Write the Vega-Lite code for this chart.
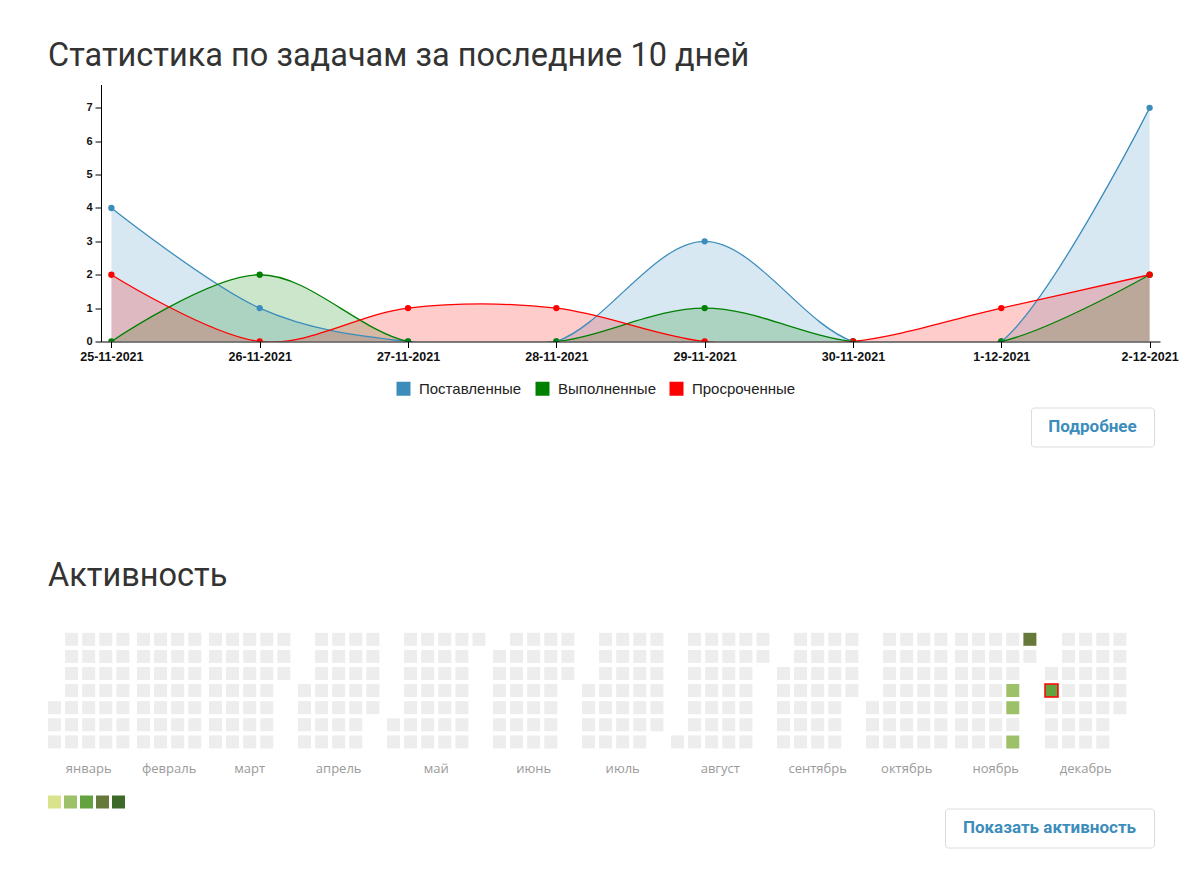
{
  "$schema": "https://vega.github.io/schema/vega-lite/v6.json",
  "autosize": {"type": "pad"},
  "padding": {"left": 48, "top": 39.5, "right": 0, "bottom": 0},
  "background": "white",
  "config": {"view": {"stroke": null}, "font": "Roboto"},
  "resolve": {"scale": {"color": "independent", "fill": "independent"}, "legend": {"color": "independent", "fill": "independent"}},
  "spacing": 112.3,
  "vconcat": [
    {
      "spacing": 4,
      "resolve": {"scale": {"color": "independent", "fill": "independent"}, "legend": {"color": "independent", "fill": "independent"}},
      "vconcat": [
        {
          "spacing": -1,
          "resolve": {"scale": {"color": "independent", "fill": "independent"}, "legend": {"color": "independent", "fill": "independent"}},
          "hconcat": [
            {"width": 1, "height": 1, "data": {"values": [{}]}, "mark": {"type": "text", "text": ""}, "encoding": {}},
            {
              "width": 1059, "height": 257,
              "title": {"text": "Статистика по задачам за последние 10 дней", "anchor": "start", "frame": "group", "dx": -53, "offset": -14, "baseline": "alphabetic", "font": "Roboto", "fontSize": 32.5, "fontWeight": "normal", "color": "#333333"},
              "data": {"values": [
                {"date": "25-11-2021", "series": "Поставленные", "value": 4},
                {"date": "26-11-2021", "series": "Поставленные", "value": 1},
                {"date": "27-11-2021", "series": "Поставленные", "value": 0},
                {"date": "28-11-2021", "series": "Поставленные", "value": 0},
                {"date": "29-11-2021", "series": "Поставленные", "value": 3},
                {"date": "30-11-2021", "series": "Поставленные", "value": 0},
                {"date": "1-12-2021", "series": "Поставленные", "value": 0},
                {"date": "2-12-2021", "series": "Поставленные", "value": 7},
                {"date": "25-11-2021", "series": "Выполненные", "value": 0},
                {"date": "26-11-2021", "series": "Выполненные", "value": 2},
                {"date": "27-11-2021", "series": "Выполненные", "value": 0},
                {"date": "28-11-2021", "series": "Выполненные", "value": 0},
                {"date": "29-11-2021", "series": "Выполненные", "value": 1},
                {"date": "30-11-2021", "series": "Выполненные", "value": 0},
                {"date": "1-12-2021", "series": "Выполненные", "value": 0},
                {"date": "2-12-2021", "series": "Выполненные", "value": 2},
                {"date": "25-11-2021", "series": "Просроченные", "value": 2},
                {"date": "26-11-2021", "series": "Просроченные", "value": 0},
                {"date": "27-11-2021", "series": "Просроченные", "value": 1},
                {"date": "28-11-2021", "series": "Просроченные", "value": 1},
                {"date": "29-11-2021", "series": "Просроченные", "value": 0},
                {"date": "30-11-2021", "series": "Просроченные", "value": 0},
                {"date": "1-12-2021", "series": "Просроченные", "value": 1},
                {"date": "2-12-2021", "series": "Просроченные", "value": 2}
              ]},
              "encoding": {
                "x": {"field": "date", "type": "ordinal",
                  "sort": ["25-11-2021", "26-11-2021", "27-11-2021", "28-11-2021", "29-11-2021", "30-11-2021", "1-12-2021", "2-12-2021"],
                  "scale": {"type": "point", "padding": 0.07},
                  "axis": {"title": null, "labelAngle": 0, "labelFont": "Liberation Sans", "labelFontSize": 12.5, "labelFontWeight": "bold", "labelColor": "#111111", "tickColor": "#000000", "domainColor": "#000000", "tickSize": 6, "labelPadding": 2.5, "grid": false, "zindex": 1}},
                "y": {"field": "value", "type": "quantitative", "stack": null,
                  "scale": {"domain": [0, 7.7], "nice": false},
                  "axis": {"title": null, "values": [0, 1, 2, 3, 4, 5, 6, 7], "labelFont": "Liberation Sans", "labelFontSize": 11, "labelFontWeight": "bold", "labelColor": "#111111", "tickColor": "#000000", "domainColor": "#000000", "tickSize": 6, "labelPadding": 3, "grid": false, "zindex": 1}}
              },
              "layer": [
                {
                  "mark": {"type": "area", "interpolate": "cardinal", "fillOpacity": 0.2, "clip": true},
                  "encoding": {"fill": {"field": "series", "type": "nominal", "scale": {"domain": ["Выполненные", "Поставленные", "Просроченные"], "range": ["#008000", "#3c8dbc", "#ff0000"]}, "legend": null}}
                },
                {
                  "mark": {"type": "point", "filled": true, "size": 40, "opacity": 1, "clip": true},
                  "encoding": {"color": {"field": "series", "type": "nominal", "scale": {"domain": ["Поставленные", "Выполненные", "Просроченные"], "range": ["#3c8dbc", "#008000", "#ff0000"]},
                    "legend": {"title": null, "orient": "none", "legendX": 295, "legendY": 296.5, "direction": "horizontal", "symbolType": "square", "symbolSize": 196, "symbolStrokeWidth": 0, "symbolOpacity": 1, "labelFont": "Liberation Sans", "labelFontSize": 15, "labelColor": "#222222", "labelOffset": 8, "columnPadding": 13, "padding": 0}}}
                },
                {
                  "mark": {"type": "line", "interpolate": "cardinal", "strokeWidth": 1.3, "clip": true},
                  "encoding": {"color": {"field": "series", "type": "nominal", "scale": {"domain": ["Поставленные", "Выполненные", "Просроченные"], "range": ["#3c8dbc", "#008000", "#ff0000"]},
                    "legend": {"title": null, "orient": "none", "legendX": 295, "legendY": 296.5, "direction": "horizontal", "symbolType": "square", "symbolSize": 196, "symbolStrokeWidth": 0, "symbolOpacity": 1, "labelFont": "Liberation Sans", "labelFontSize": 15, "labelColor": "#222222", "labelOffset": 8, "columnPadding": 13, "padding": 0}}}
                }
              ]
            }
          ]
        },
        {
          "spacing": 0,
          "hconcat": [
            {"width": 982, "height": 1, "data": {"values": [{}]}, "mark": {"type": "text", "text": ""}, "encoding": {}},
            {
              "width": 123, "height": 39,
              "data": {"values": [{"label": "Подробнее"}]},
              "mark": {"type": "text", "font": "Roboto", "fontSize": 17, "fontWeight": "bold", "color": "#3c8dbc", "align": "center", "baseline": "middle"},
              "encoding": {"text": {"field": "label"}},
              "view": {"stroke": "#dcdcdc", "strokeWidth": 1, "cornerRadius": 3}
            }
          ]
        }
      ]
    },
    {
      "spacing": 26.7,
      "vconcat": [
        {
          "title": {"text": "Активность", "anchor": "start", "frame": "group", "dx": 0, "offset": 14.3, "baseline": "alphabetic", "font": "Roboto", "fontSize": 32.5, "fontWeight": "normal", "color": "#333333"},
          "data": {"values": [
{"m":"январь","w":1,"d":5,"v":0},{"m":"январь","w":1,"d":6,"v":0},{"m":"январь","w":1,"d":7,"v":0},
{"m":"январь","w":2,"d":1,"v":0},{"m":"январь","w":2,"d":2,"v":0},{"m":"январь","w":2,"d":3,"v":0},{"m":"январь","w":2,"d":4,"v":0},{"m":"январь","w":2,"d":5,"v":0},{"m":"январь","w":2,"d":6,"v":0},{"m":"январь","w":2,"d":7,"v":0},
{"m":"январь","w":3,"d":1,"v":0},{"m":"январь","w":3,"d":2,"v":0},{"m":"январь","w":3,"d":3,"v":0},{"m":"январь","w":3,"d":4,"v":0},{"m":"январь","w":3,"d":5,"v":0},{"m":"январь","w":3,"d":6,"v":0},{"m":"январь","w":3,"d":7,"v":0},
{"m":"январь","w":4,"d":1,"v":0},{"m":"январь","w":4,"d":2,"v":0},{"m":"январь","w":4,"d":3,"v":0},{"m":"январь","w":4,"d":4,"v":0},{"m":"январь","w":4,"d":5,"v":0},{"m":"январь","w":4,"d":6,"v":0},{"m":"январь","w":4,"d":7,"v":0},
{"m":"январь","w":5,"d":1,"v":0},{"m":"январь","w":5,"d":2,"v":0},{"m":"январь","w":5,"d":3,"v":0},{"m":"январь","w":5,"d":4,"v":0},{"m":"январь","w":5,"d":5,"v":0},{"m":"январь","w":5,"d":6,"v":0},{"m":"январь","w":5,"d":7,"v":0},
{"m":"февраль","w":1,"d":1,"v":0},{"m":"февраль","w":1,"d":2,"v":0},{"m":"февраль","w":1,"d":3,"v":0},{"m":"февраль","w":1,"d":4,"v":0},{"m":"февраль","w":1,"d":5,"v":0},{"m":"февраль","w":1,"d":6,"v":0},{"m":"февраль","w":1,"d":7,"v":0},
{"m":"февраль","w":2,"d":1,"v":0},{"m":"февраль","w":2,"d":2,"v":0},{"m":"февраль","w":2,"d":3,"v":0},{"m":"февраль","w":2,"d":4,"v":0},{"m":"февраль","w":2,"d":5,"v":0},{"m":"февраль","w":2,"d":6,"v":0},{"m":"февраль","w":2,"d":7,"v":0},
{"m":"февраль","w":3,"d":1,"v":0},{"m":"февраль","w":3,"d":2,"v":0},{"m":"февраль","w":3,"d":3,"v":0},{"m":"февраль","w":3,"d":4,"v":0},{"m":"февраль","w":3,"d":5,"v":0},{"m":"февраль","w":3,"d":6,"v":0},{"m":"февраль","w":3,"d":7,"v":0},
{"m":"февраль","w":4,"d":1,"v":0},{"m":"февраль","w":4,"d":2,"v":0},{"m":"февраль","w":4,"d":3,"v":0},{"m":"февраль","w":4,"d":4,"v":0},{"m":"февраль","w":4,"d":5,"v":0},{"m":"февраль","w":4,"d":6,"v":0},{"m":"февраль","w":4,"d":7,"v":0},
{"m":"март","w":1,"d":1,"v":0},{"m":"март","w":1,"d":2,"v":0},{"m":"март","w":1,"d":3,"v":0},{"m":"март","w":1,"d":4,"v":0},{"m":"март","w":1,"d":5,"v":0},{"m":"март","w":1,"d":6,"v":0},{"m":"март","w":1,"d":7,"v":0},
{"m":"март","w":2,"d":1,"v":0},{"m":"март","w":2,"d":2,"v":0},{"m":"март","w":2,"d":3,"v":0},{"m":"март","w":2,"d":4,"v":0},{"m":"март","w":2,"d":5,"v":0},{"m":"март","w":2,"d":6,"v":0},{"m":"март","w":2,"d":7,"v":0},
{"m":"март","w":3,"d":1,"v":0},{"m":"март","w":3,"d":2,"v":0},{"m":"март","w":3,"d":3,"v":0},{"m":"март","w":3,"d":4,"v":0},{"m":"март","w":3,"d":5,"v":0},{"m":"март","w":3,"d":6,"v":0},{"m":"март","w":3,"d":7,"v":0},
{"m":"март","w":4,"d":1,"v":0},{"m":"март","w":4,"d":2,"v":0},{"m":"март","w":4,"d":3,"v":0},{"m":"март","w":4,"d":4,"v":0},{"m":"март","w":4,"d":5,"v":0},{"m":"март","w":4,"d":6,"v":0},{"m":"март","w":4,"d":7,"v":0},
{"m":"март","w":5,"d":1,"v":0},{"m":"март","w":5,"d":2,"v":0},{"m":"март","w":5,"d":3,"v":0},
{"m":"апрель","w":1,"d":4,"v":0},{"m":"апрель","w":1,"d":5,"v":0},{"m":"апрель","w":1,"d":6,"v":0},{"m":"апрель","w":1,"d":7,"v":0},
{"m":"апрель","w":2,"d":1,"v":0},{"m":"апрель","w":2,"d":2,"v":0},{"m":"апрель","w":2,"d":3,"v":0},{"m":"апрель","w":2,"d":4,"v":0},{"m":"апрель","w":2,"d":5,"v":0},{"m":"апрель","w":2,"d":6,"v":0},{"m":"апрель","w":2,"d":7,"v":0},
{"m":"апрель","w":3,"d":1,"v":0},{"m":"апрель","w":3,"d":2,"v":0},{"m":"апрель","w":3,"d":3,"v":0},{"m":"апрель","w":3,"d":4,"v":0},{"m":"апрель","w":3,"d":5,"v":0},{"m":"апрель","w":3,"d":6,"v":0},{"m":"апрель","w":3,"d":7,"v":0},
{"m":"апрель","w":4,"d":1,"v":0},{"m":"апрель","w":4,"d":2,"v":0},{"m":"апрель","w":4,"d":3,"v":0},{"m":"апрель","w":4,"d":4,"v":0},{"m":"апрель","w":4,"d":5,"v":0},{"m":"апрель","w":4,"d":6,"v":0},{"m":"апрель","w":4,"d":7,"v":0},
{"m":"апрель","w":5,"d":1,"v":0},{"m":"апрель","w":5,"d":2,"v":0},{"m":"апрель","w":5,"d":3,"v":0},{"m":"апрель","w":5,"d":4,"v":0},{"m":"апрель","w":5,"d":5,"v":0},
{"m":"май","w":1,"d":6,"v":0},{"m":"май","w":1,"d":7,"v":0},
{"m":"май","w":2,"d":1,"v":0},{"m":"май","w":2,"d":2,"v":0},{"m":"май","w":2,"d":3,"v":0},{"m":"май","w":2,"d":4,"v":0},{"m":"май","w":2,"d":5,"v":0},{"m":"май","w":2,"d":6,"v":0},{"m":"май","w":2,"d":7,"v":0},
{"m":"май","w":3,"d":1,"v":0},{"m":"май","w":3,"d":2,"v":0},{"m":"май","w":3,"d":3,"v":0},{"m":"май","w":3,"d":4,"v":0},{"m":"май","w":3,"d":5,"v":0},{"m":"май","w":3,"d":6,"v":0},{"m":"май","w":3,"d":7,"v":0},
{"m":"май","w":4,"d":1,"v":0},{"m":"май","w":4,"d":2,"v":0},{"m":"май","w":4,"d":3,"v":0},{"m":"май","w":4,"d":4,"v":0},{"m":"май","w":4,"d":5,"v":0},{"m":"май","w":4,"d":6,"v":0},{"m":"май","w":4,"d":7,"v":0},
{"m":"май","w":5,"d":1,"v":0},{"m":"май","w":5,"d":2,"v":0},{"m":"май","w":5,"d":3,"v":0},{"m":"май","w":5,"d":4,"v":0},{"m":"май","w":5,"d":5,"v":0},{"m":"май","w":5,"d":6,"v":0},{"m":"май","w":5,"d":7,"v":0},
{"m":"май","w":6,"d":1,"v":0},
{"m":"июнь","w":1,"d":2,"v":0},{"m":"июнь","w":1,"d":3,"v":0},{"m":"июнь","w":1,"d":4,"v":0},{"m":"июнь","w":1,"d":5,"v":0},{"m":"июнь","w":1,"d":6,"v":0},{"m":"июнь","w":1,"d":7,"v":0},
{"m":"июнь","w":2,"d":1,"v":0},{"m":"июнь","w":2,"d":2,"v":0},{"m":"июнь","w":2,"d":3,"v":0},{"m":"июнь","w":2,"d":4,"v":0},{"m":"июнь","w":2,"d":5,"v":0},{"m":"июнь","w":2,"d":6,"v":0},{"m":"июнь","w":2,"d":7,"v":0},
{"m":"июнь","w":3,"d":1,"v":0},{"m":"июнь","w":3,"d":2,"v":0},{"m":"июнь","w":3,"d":3,"v":0},{"m":"июнь","w":3,"d":4,"v":0},{"m":"июнь","w":3,"d":5,"v":0},{"m":"июнь","w":3,"d":6,"v":0},{"m":"июнь","w":3,"d":7,"v":0},
{"m":"июнь","w":4,"d":1,"v":0},{"m":"июнь","w":4,"d":2,"v":0},{"m":"июнь","w":4,"d":3,"v":0},{"m":"июнь","w":4,"d":4,"v":0},{"m":"июнь","w":4,"d":5,"v":0},{"m":"июнь","w":4,"d":6,"v":0},{"m":"июнь","w":4,"d":7,"v":0},
{"m":"июнь","w":5,"d":1,"v":0},{"m":"июнь","w":5,"d":2,"v":0},{"m":"июнь","w":5,"d":3,"v":0},
{"m":"июль","w":1,"d":4,"v":0},{"m":"июль","w":1,"d":5,"v":0},{"m":"июль","w":1,"d":6,"v":0},{"m":"июль","w":1,"d":7,"v":0},
{"m":"июль","w":2,"d":1,"v":0},{"m":"июль","w":2,"d":2,"v":0},{"m":"июль","w":2,"d":3,"v":0},{"m":"июль","w":2,"d":4,"v":0},{"m":"июль","w":2,"d":5,"v":0},{"m":"июль","w":2,"d":6,"v":0},{"m":"июль","w":2,"d":7,"v":0},
{"m":"июль","w":3,"d":1,"v":0},{"m":"июль","w":3,"d":2,"v":0},{"m":"июль","w":3,"d":3,"v":0},{"m":"июль","w":3,"d":4,"v":0},{"m":"июль","w":3,"d":5,"v":0},{"m":"июль","w":3,"d":6,"v":0},{"m":"июль","w":3,"d":7,"v":0},
{"m":"июль","w":4,"d":1,"v":0},{"m":"июль","w":4,"d":2,"v":0},{"m":"июль","w":4,"d":3,"v":0},{"m":"июль","w":4,"d":4,"v":0},{"m":"июль","w":4,"d":5,"v":0},{"m":"июль","w":4,"d":6,"v":0},{"m":"июль","w":4,"d":7,"v":0},
{"m":"июль","w":5,"d":1,"v":0},{"m":"июль","w":5,"d":2,"v":0},{"m":"июль","w":5,"d":3,"v":0},{"m":"июль","w":5,"d":4,"v":0},{"m":"июль","w":5,"d":5,"v":0},{"m":"июль","w":5,"d":6,"v":0},
{"m":"август","w":1,"d":7,"v":0},
{"m":"август","w":2,"d":1,"v":0},{"m":"август","w":2,"d":2,"v":0},{"m":"август","w":2,"d":3,"v":0},{"m":"август","w":2,"d":4,"v":0},{"m":"август","w":2,"d":5,"v":0},{"m":"август","w":2,"d":6,"v":0},{"m":"август","w":2,"d":7,"v":0},
{"m":"август","w":3,"d":1,"v":0},{"m":"август","w":3,"d":2,"v":0},{"m":"август","w":3,"d":3,"v":0},{"m":"август","w":3,"d":4,"v":0},{"m":"август","w":3,"d":5,"v":0},{"m":"август","w":3,"d":6,"v":0},{"m":"август","w":3,"d":7,"v":0},
{"m":"август","w":4,"d":1,"v":0},{"m":"август","w":4,"d":2,"v":0},{"m":"август","w":4,"d":3,"v":0},{"m":"август","w":4,"d":4,"v":0},{"m":"август","w":4,"d":5,"v":0},{"m":"август","w":4,"d":6,"v":0},{"m":"август","w":4,"d":7,"v":0},
{"m":"август","w":5,"d":1,"v":0},{"m":"август","w":5,"d":2,"v":0},{"m":"август","w":5,"d":3,"v":0},{"m":"август","w":5,"d":4,"v":0},{"m":"август","w":5,"d":5,"v":0},{"m":"август","w":5,"d":6,"v":0},{"m":"август","w":5,"d":7,"v":0},
{"m":"август","w":6,"d":1,"v":0},{"m":"август","w":6,"d":2,"v":0},
{"m":"сентябрь","w":1,"d":3,"v":0},{"m":"сентябрь","w":1,"d":4,"v":0},{"m":"сентябрь","w":1,"d":5,"v":0},{"m":"сентябрь","w":1,"d":6,"v":0},{"m":"сентябрь","w":1,"d":7,"v":0},
{"m":"сентябрь","w":2,"d":1,"v":0},{"m":"сентябрь","w":2,"d":2,"v":0},{"m":"сентябрь","w":2,"d":3,"v":0},{"m":"сентябрь","w":2,"d":4,"v":0},{"m":"сентябрь","w":2,"d":5,"v":0},{"m":"сентябрь","w":2,"d":6,"v":0},{"m":"сентябрь","w":2,"d":7,"v":0},
{"m":"сентябрь","w":3,"d":1,"v":0},{"m":"сентябрь","w":3,"d":2,"v":0},{"m":"сентябрь","w":3,"d":3,"v":0},{"m":"сентябрь","w":3,"d":4,"v":0},{"m":"сентябрь","w":3,"d":5,"v":0},{"m":"сентябрь","w":3,"d":6,"v":0},{"m":"сентябрь","w":3,"d":7,"v":0},
{"m":"сентябрь","w":4,"d":1,"v":0},{"m":"сентябрь","w":4,"d":2,"v":0},{"m":"сентябрь","w":4,"d":3,"v":0},{"m":"сентябрь","w":4,"d":4,"v":0},{"m":"сентябрь","w":4,"d":5,"v":0},{"m":"сентябрь","w":4,"d":6,"v":0},{"m":"сентябрь","w":4,"d":7,"v":0},
{"m":"сентябрь","w":5,"d":1,"v":0},{"m":"сентябрь","w":5,"d":2,"v":0},{"m":"сентябрь","w":5,"d":3,"v":0},{"m":"сентябрь","w":5,"d":4,"v":0},
{"m":"октябрь","w":1,"d":5,"v":0},{"m":"октябрь","w":1,"d":6,"v":0},{"m":"октябрь","w":1,"d":7,"v":0},
{"m":"октябрь","w":2,"d":1,"v":0},{"m":"октябрь","w":2,"d":2,"v":0},{"m":"октябрь","w":2,"d":3,"v":0},{"m":"октябрь","w":2,"d":4,"v":0},{"m":"октябрь","w":2,"d":5,"v":0},{"m":"октябрь","w":2,"d":6,"v":0},{"m":"октябрь","w":2,"d":7,"v":0},
{"m":"октябрь","w":3,"d":1,"v":0},{"m":"октябрь","w":3,"d":2,"v":0},{"m":"октябрь","w":3,"d":3,"v":0},{"m":"октябрь","w":3,"d":4,"v":0},{"m":"октябрь","w":3,"d":5,"v":0},{"m":"октябрь","w":3,"d":6,"v":0},{"m":"октябрь","w":3,"d":7,"v":0},
{"m":"октябрь","w":4,"d":1,"v":0},{"m":"октябрь","w":4,"d":2,"v":0},{"m":"октябрь","w":4,"d":3,"v":0},{"m":"октябрь","w":4,"d":4,"v":0},{"m":"октябрь","w":4,"d":5,"v":0},{"m":"октябрь","w":4,"d":6,"v":0},{"m":"октябрь","w":4,"d":7,"v":0},
{"m":"октябрь","w":5,"d":1,"v":0},{"m":"октябрь","w":5,"d":2,"v":0},{"m":"октябрь","w":5,"d":3,"v":0},{"m":"октябрь","w":5,"d":4,"v":0},{"m":"октябрь","w":5,"d":5,"v":0},{"m":"октябрь","w":5,"d":6,"v":0},{"m":"октябрь","w":5,"d":7,"v":0},
{"m":"ноябрь","w":1,"d":1,"v":0},{"m":"ноябрь","w":1,"d":2,"v":0},{"m":"ноябрь","w":1,"d":3,"v":0},{"m":"ноябрь","w":1,"d":4,"v":0},{"m":"ноябрь","w":1,"d":5,"v":0},{"m":"ноябрь","w":1,"d":6,"v":0},{"m":"ноябрь","w":1,"d":7,"v":0},
{"m":"ноябрь","w":2,"d":1,"v":0},{"m":"ноябрь","w":2,"d":2,"v":0},{"m":"ноябрь","w":2,"d":3,"v":0},{"m":"ноябрь","w":2,"d":4,"v":0},{"m":"ноябрь","w":2,"d":5,"v":0},{"m":"ноябрь","w":2,"d":6,"v":0},{"m":"ноябрь","w":2,"d":7,"v":0},
{"m":"ноябрь","w":3,"d":1,"v":0},{"m":"ноябрь","w":3,"d":2,"v":0},{"m":"ноябрь","w":3,"d":3,"v":0},{"m":"ноябрь","w":3,"d":4,"v":0},{"m":"ноябрь","w":3,"d":5,"v":0},{"m":"ноябрь","w":3,"d":6,"v":0},{"m":"ноябрь","w":3,"d":7,"v":0},
{"m":"ноябрь","w":4,"d":1,"v":0},{"m":"ноябрь","w":4,"d":2,"v":0},{"m":"ноябрь","w":4,"d":3,"v":0},{"m":"ноябрь","w":4,"d":4,"v":2},{"m":"ноябрь","w":4,"d":5,"v":2},{"m":"ноябрь","w":4,"d":6,"v":0},{"m":"ноябрь","w":4,"d":7,"v":2},
{"m":"ноябрь","w":5,"d":1,"v":4},{"m":"ноябрь","w":5,"d":2,"v":0},
{"m":"декабрь","w":1,"d":3,"v":0},{"m":"декабрь","w":1,"d":4,"v":3},{"m":"декабрь","w":1,"d":5,"v":0},{"m":"декабрь","w":1,"d":6,"v":0},{"m":"декабрь","w":1,"d":7,"v":0},
{"m":"декабрь","w":2,"d":1,"v":0},{"m":"декабрь","w":2,"d":2,"v":0},{"m":"декабрь","w":2,"d":3,"v":0},{"m":"декабрь","w":2,"d":4,"v":0},{"m":"декабрь","w":2,"d":5,"v":0},{"m":"декабрь","w":2,"d":6,"v":0},{"m":"декабрь","w":2,"d":7,"v":0},
{"m":"декабрь","w":3,"d":1,"v":0},{"m":"декабрь","w":3,"d":2,"v":0},{"m":"декабрь","w":3,"d":3,"v":0},{"m":"декабрь","w":3,"d":4,"v":0},{"m":"декабрь","w":3,"d":5,"v":0},{"m":"декабрь","w":3,"d":6,"v":0},{"m":"декабрь","w":3,"d":7,"v":0},
{"m":"декабрь","w":4,"d":1,"v":0},{"m":"декабрь","w":4,"d":2,"v":0},{"m":"декабрь","w":4,"d":3,"v":0},{"m":"декабрь","w":4,"d":4,"v":0},{"m":"декабрь","w":4,"d":5,"v":0},{"m":"декабрь","w":4,"d":6,"v":0},{"m":"декабрь","w":4,"d":7,"v":0},
{"m":"декабрь","w":5,"d":1,"v":0},{"m":"декабрь","w":5,"d":2,"v":0},{"m":"декабрь","w":5,"d":3,"v":0},{"m":"декабрь","w":5,"d":4,"v":0},{"m":"декабрь","w":5,"d":5,"v":0}
          ]},
          "facet": {
            "column": {"field": "m", "type": "nominal",
              "sort": ["январь", "февраль", "март", "апрель", "май", "июнь", "июль", "август", "сентябрь", "октябрь", "ноябрь", "декабрь"],
              "header": {"title": null, "labelOrient": "bottom", "labelFont": "Open Sans", "labelFontSize": 13, "labelColor": "#9a9a9a", "labelPadding": 24, "labelBaseline": "alphabetic"}}
          },
          "spacing": 7,
          "align": "each",
          "resolve": {"scale": {"x": "independent"}},
          "spec": {
            "width": {"step": 17.1},
            "height": {"step": 17.1},
            "mark": {"type": "rect", "strokeWidth": 1.5},
            "encoding": {
              "x": {"field": "w", "type": "ordinal", "axis": null, "scale": {"paddingInner": 0.24, "paddingOuter": 0}},
              "y": {"field": "d", "type": "ordinal", "axis": null, "scale": {"domain": [1, 2, 3, 4, 5, 6, 7], "paddingInner": 0.24, "paddingOuter": 0}},
              "color": {"field": "v", "type": "ordinal",
                "scale": {"domain": [0, 1, 2, 3, 4, 5], "range": ["#ededed", "#d9e38b", "#9cc169", "#64a13f", "#66793a", "#3d6a26"]},
                "legend": {"values": [1, 2, 3, 4, 5], "title": null, "orient": "none", "legendX": 0, "legendY": 162.7, "direction": "horizontal", "symbolType": "square", "symbolSize": 169, "symbolStrokeWidth": 0, "symbolOpacity": 1, "labelExpr": "''", "labelFontSize": 1, "labelOffset": 0, "columnPadding": 3, "padding": 0}},
              "stroke": {"condition": {"test": "datum.m === 'декабрь' && datum.w === 1 && datum.d === 4", "value": "#ff0000"}, "value": null}
            }
          }
        },
        {
          "spacing": 0,
          "hconcat": [
            {"width": 896, "height": 1, "data": {"values": [{}]}, "mark": {"type": "text", "text": ""}, "encoding": {}},
            {
              "width": 209, "height": 39,
              "data": {"values": [{"label": "Показать активность"}]},
              "mark": {"type": "text", "font": "Roboto", "fontSize": 17, "fontWeight": "bold", "color": "#3c8dbc", "align": "center", "baseline": "middle"},
              "encoding": {"text": {"field": "label"}},
              "view": {"stroke": "#dcdcdc", "strokeWidth": 1, "cornerRadius": 3}
            }
          ]
        }
      ]
    }
  ]
}
